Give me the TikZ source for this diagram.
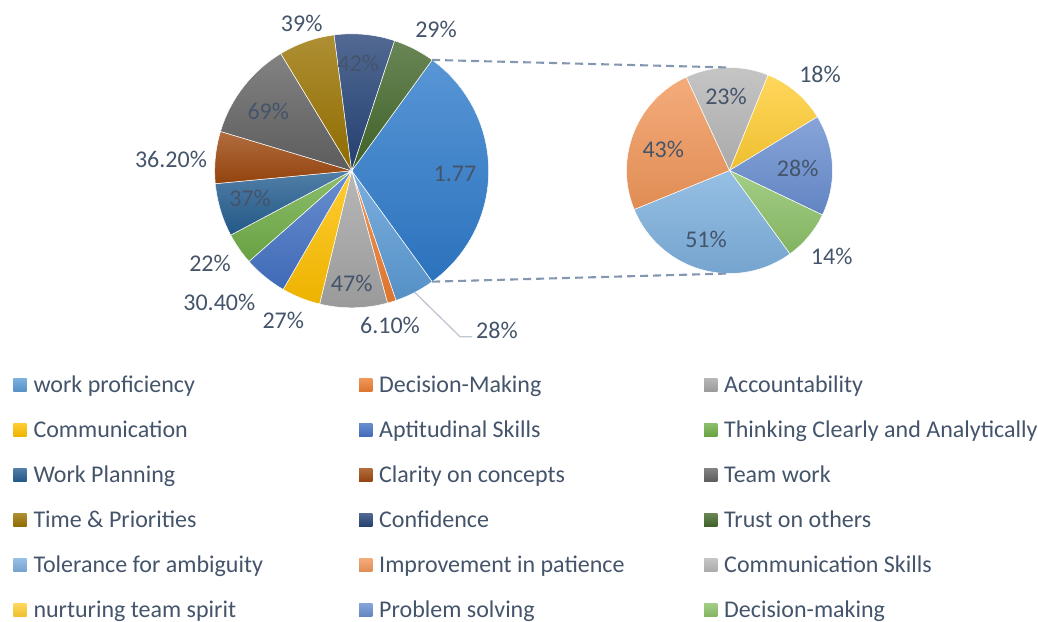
\documentclass[tikz,border=0pt]{standalone}
\usepackage{fontspec}
\setmainfont{Carlito}
\definecolor{txt}{HTML}{44546A}
\definecolor{linkc}{HTML}{8497B0}
\definecolor{leadc}{HTML}{BFC6D2}
\definecolor{cA}{HTML}{5B9BD5}
\definecolor{cB}{HTML}{ED7D31}
\definecolor{cC}{HTML}{A5A5A5}
\definecolor{cD}{HTML}{FFC000}
\definecolor{cE}{HTML}{4472C4}
\definecolor{cF}{HTML}{70AD47}
\definecolor{cG}{HTML}{255E91}
\definecolor{cH}{HTML}{9E480E}
\definecolor{cI}{HTML}{636363}
\definecolor{cJ}{HTML}{997300}
\definecolor{cK}{HTML}{264478}
\definecolor{cL}{HTML}{43682B}
\definecolor{cM}{HTML}{7CAFDD}
\definecolor{cN}{HTML}{F1975A}
\definecolor{cP}{HTML}{B7B7B7}
\definecolor{cQ}{HTML}{FFCD33}
\definecolor{cR}{HTML}{698ED0}
\definecolor{cS}{HTML}{8CC168}
\definecolor{cO}{HTML}{2E7BCB}
\newcommand\pieSlice[5]{\path[top color=#5!80!white, bottom color=#5!93!black, draw=white, line width=0.5pt] (#1) -- ++(#3:#2) arc[start angle=#3, end angle=#4, radius=#2] -- cycle;}
\newcommand\lgdEntry[4]{% col x, row, colour, text
  \path[top color=#3!80!white, bottom color=#3!93!black] (#1,{-378.3-45*#2}) rectangle ++(13.4,-13.4);
  \node[lgd] (lg#3) at ({#1+20},{-392.5-45*#2}) {#4};}
\begin{document}
\begin{tikzpicture}[x=1pt,y=1pt,
  lbl/.style={font=\fontsize{24}{29}\selectfont, text=txt, inner sep=0pt, anchor=base},
  lgd/.style={font=\fontsize{24}{29}\selectfont, text=txt, inner sep=0pt, anchor=base west},
  link/.style={draw=linkc, line width=2.1pt, dash pattern=on 8pt off 5pt},
  leader/.style={draw=leadc, line width=1.3pt}]
\useasboundingbox (0,0) rectangle (1038,-621);
\coordinate (M) at (351.7,-170.8);
\coordinate (S) at (729.5,-170.5);
% main pie
\pieSlice{M}{137}{54.03}{-54.03}{cO}
\pieSlice{M}{137}{-54.03}{-71.12}{cA}
\pieSlice{M}{137}{-71.12}{-74.84}{cB}
\pieSlice{M}{137}{-74.84}{-103.54}{cC}
\pieSlice{M}{137}{-103.54}{-120.02}{cD}
\pieSlice{M}{137}{-120.02}{-138.58}{cE}
\pieSlice{M}{137}{-138.58}{-152.01}{cF}
\pieSlice{M}{137}{-152.01}{-174.60}{cG}
\pieSlice{M}{137}{-174.60}{-196.70}{cH}
\pieSlice{M}{137}{-196.70}{-238.82}{cI}
\pieSlice{M}{137}{-238.82}{-262.63}{cJ}
\pieSlice{M}{137}{-262.63}{-288.27}{cK}
\pieSlice{M}{137}{-288.27}{-305.97}{cL}
% secondary pie
\pieSlice{S}{103}{-54.03}{-157.76}{cM}
\pieSlice{S}{103}{-157.76}{-245.22}{cN}
\pieSlice{S}{103}{114.78}{68.00}{cP}
\pieSlice{S}{103}{68.00}{31.39}{cQ}
\pieSlice{S}{103}{31.39}{-25.56}{cR}
\pieSlice{S}{103}{-25.56}{-54.03}{cS}
% connectors
\path (M) ++(54.03:137) coordinate (mtop);
\path (M) ++(-54.03:137) coordinate (mbot);
\path (S) ++(90:103) coordinate (stop);
\path (S) ++(-90:103) coordinate (sbot);
\draw[link] (mtop) -- (stop);
\draw[link] (mbot) -- (sbot);
% labels main
\node[lbl] (l177) at (455,-181) {1.77};
\node[lbl] (l29) at (436,-37.7) {29\%};
\node[lbl] (l39) at (301.7,-31.7) {39\%};
\node[lbl] (l42) at (358.3,-71) {42\%};
\node[lbl] (l69) at (268.3,-119.4) {69\%};
\node[lbl] (l362) at (171,-167) {36.20\%};
\node[lbl] (l37) at (250,-206) {37\%};
\node[lbl] (l22) at (210,-271) {22\%};
\node[lbl] (l304) at (219.3,-310.4) {30.40\%};
\node[lbl] (l27) at (283.3,-328.4) {27\%};
\node[lbl] (l47) at (351.7,-291) {47\%};
\node[lbl] (l61) at (390,-333.4) {6.10\%};
\node[lbl, anchor=base west] (l28) at (476,-338.7) {28\%};
\path (M) ++(-62.58:137) coordinate (lp);
\coordinate (lk) at (460,-336.7);
\coordinate (lend) at (472,-336.7);
\draw[leader] (lp) -- (lk) -- (lend);
% labels secondary
\node[lbl] (s23) at (726,-104.4) {23\%};
\node[lbl] (s18) at (820,-82.7) {18\%};
\node[lbl] (s43) at (663.3,-157) {43\%};
\node[lbl] (s28) at (797.7,-176) {28\%};
\node[lbl] (s51) at (706,-247.7) {51\%};
\node[lbl] (s14) at (831.7,-264.4) {14\%};
% legend
\lgdEntry{13.3}{0}{cA}{work proficiency}
\lgdEntry{359}{0}{cB}{Decision-Making}
\lgdEntry{704}{0}{cC}{Accountability}
\lgdEntry{13.3}{1}{cD}{Communication}
\lgdEntry{359}{1}{cE}{Aptitudinal Skills}
\lgdEntry{704}{1}{cF}{Thinking Clearly and Analytically}
\lgdEntry{13.3}{2}{cG}{Work Planning}
\lgdEntry{359}{2}{cH}{Clarity on concepts}
\lgdEntry{704}{2}{cI}{Team work}
\lgdEntry{13.3}{3}{cJ}{Time \& Priorities}
\lgdEntry{359}{3}{cK}{Confidence}
\lgdEntry{704}{3}{cL}{Trust on others}
\lgdEntry{13.3}{4}{cM}{Tolerance for ambiguity}
\lgdEntry{359}{4}{cN}{Improvement in patience}
\lgdEntry{704}{4}{cP}{Communication Skills}
\lgdEntry{13.3}{5}{cQ}{nurturing team spirit}
\lgdEntry{359}{5}{cR}{Problem solving}
\lgdEntry{704}{5}{cS}{Decision-making}
\end{tikzpicture}
\end{document}
